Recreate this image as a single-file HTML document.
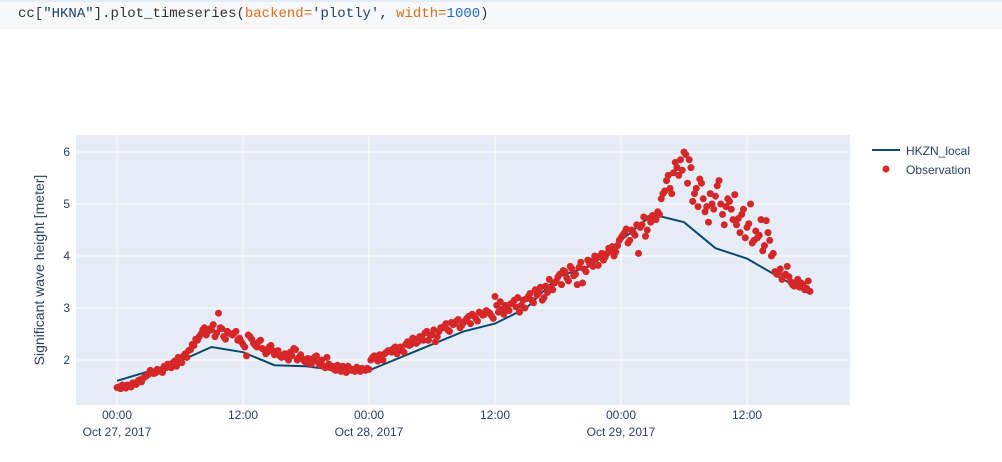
<!DOCTYPE html>
<html><head><meta charset="utf-8"><style>
body{margin:0;width:1002px;height:462px;background:#fff;overflow:hidden;font-family:"Liberation Sans",sans-serif}
#code{position:absolute;left:0;top:0;width:1002px;height:27px;background:#f7f8fa;border-top:2px solid #e3ecf7;font-family:"Liberation Mono",monospace;font-size:14px;line-height:25px;color:#333}
#code span.p{padding-left:18px}
.o{color:#e06c1a}.n{color:#1f6fbf}.s{color:#22436b}
svg{position:absolute;left:0;top:0}
</style></head><body>
<div id="code"><span class="p">cc[<span class="s">"HKNA"</span>].plot_timeseries(<span class="o">backend</span><span class="o">=</span><span class="s">'plotly'</span>, <span class="o">width</span><span class="o">=</span><span class="n">1000</span>)</span></div>
<svg id="chart" width="1002" height="462"></svg>
<script>
const lineHours=[0,3,6,9,12,15,18,21,24,27,30,33,36,39,42,45,48,51,54,57,60,63,66];
const lineValues=[1.6,1.78,1.98,2.25,2.15,1.9,1.88,1.8,1.8,2.05,2.3,2.55,2.7,3.0,3.6,3.8,4.3,4.8,4.65,4.15,3.95,3.6,3.27];
const obsStepHours=1/3;
const obsValues=[1.47,1.45,1.50,1.52,1.48,1.55,1.60,1.58,1.68,1.72,1.78,1.75,1.80,1.76,1.85,1.90,1.95,1.88,2.00,2.08,2.05,2.20,2.28,2.38,2.50,2.62,2.55,2.58,2.45,2.90,2.60,2.40,2.52,2.48,2.55,2.42,2.30,2.08,2.45,2.32,2.25,2.38,2.20,2.15,2.28,2.10,2.18,2.05,2.12,2.00,2.08,2.20,2.05,2.02,1.95,2.02,1.98,2.08,1.90,1.88,2.05,1.85,1.82,1.90,1.78,1.85,1.88,1.80,1.78,1.82,1.84,1.80,1.82,2.05,2.02,2.10,2.00,2.15,2.18,2.22,2.12,2.25,2.15,2.35,2.30,2.40,2.35,2.45,2.52,2.38,2.48,2.35,2.55,2.62,2.70,2.55,2.68,2.75,2.62,2.72,2.80,2.70,2.85,2.75,2.90,2.88,2.92,2.85,3.22,2.92,2.98,3.05,2.95,3.10,3.02,2.92,3.15,3.18,3.28,3.10,3.25,3.40,3.20,3.30,3.38,3.48,3.60,3.45,3.70,3.52,3.75,3.65,3.78,3.48,3.70,3.85,3.80,3.95,4.00,3.92,4.05,4.10,4.00,4.20,4.35,4.45,4.25,4.50,4.40,4.05,4.60,4.38,4.72,4.78,4.70,4.80,5.20,5.45,5.30,5.60,5.70,5.85,6.00,5.40,5.70,5.20,4.95,5.40,4.85,4.65,5.00,5.15,5.45,4.80,4.95,5.05,4.70,4.60,4.45,4.90,4.55,5.00,4.30,4.35,4.70,4.20,4.45,4.00,3.70,3.70,3.55,3.65,3.60,3.45,3.50,3.40,3.45,3.38,3.32];
const obsOffsetHours=1/6;
const obsValues2=[1.48,1.52,1.46,1.50,1.56,1.53,1.62,1.65,1.70,1.80,1.74,1.82,1.78,1.88,1.92,1.85,1.98,2.05,1.95,2.12,2.18,2.30,2.40,2.45,2.58,2.48,2.60,2.68,2.52,2.62,2.45,2.55,2.50,2.52,2.38,2.35,2.25,2.48,2.40,2.28,2.35,2.22,2.12,2.25,2.18,2.15,2.08,2.10,2.05,2.15,2.22,2.00,2.10,1.98,2.03,1.92,2.06,1.95,2.00,1.85,1.92,1.88,1.80,1.82,1.88,1.76,1.84,1.82,1.86,1.78,1.82,1.84,2.00,2.08,1.98,2.05,2.12,2.18,2.15,2.25,2.20,2.18,2.30,2.28,2.42,2.32,2.45,2.38,2.55,2.48,2.58,2.45,2.62,2.65,2.58,2.72,2.70,2.78,2.66,2.76,2.84,2.88,2.80,2.92,2.86,2.95,2.90,2.80,3.05,3.12,2.88,2.98,3.08,3.15,3.20,3.05,3.00,3.22,3.15,3.35,3.30,3.15,3.42,3.55,3.35,3.52,3.65,3.72,3.58,3.80,3.62,3.45,3.88,3.75,3.92,3.90,4.00,3.82,4.05,3.98,4.15,4.18,4.08,4.30,4.40,4.52,4.30,4.45,4.60,4.55,4.75,4.50,4.65,4.72,4.85,5.10,5.25,5.55,5.20,5.80,5.55,5.65,5.95,5.85,5.05,5.30,5.48,5.10,4.95,5.20,4.90,5.35,5.00,4.60,5.10,4.90,5.18,4.72,4.80,4.35,4.62,4.25,4.48,4.40,4.10,4.68,4.30,4.05,3.65,3.75,3.62,3.80,3.50,3.42,3.55,3.48,3.35,3.52];
const yTicks=[2,3,4,5,6];
const xTickHours=[0,12,24,36,48,60];
const xTickLabels=[["00:00","Oct 27, 2017"],["12:00",""],["00:00","Oct 28, 2017"],["12:00",""],["00:00","Oct 29, 2017"],["12:00",""]];

const L=76,R=850,T=135,B=405;
const x=h=>117+h*10.5;
const y=v=>412-(v-1)*52;
const NS="http://www.w3.org/2000/svg";
const svg=document.getElementById('chart');
function mk(tag,attrs,parent){const e=document.createElementNS(NS,tag);for(const k in attrs)e.setAttribute(k,attrs[k]);(parent||svg).appendChild(e);return e;}

const bg=mk('rect',{x:L,y:T,width:R-L,height:B-T,fill:'#e5ecf6'});



yTicks.forEach(v=>{
  const g=mk('line',{x1:L,x2:R,y1:y(v),y2:y(v),stroke:'#fff','stroke-width':1});
  
  
  const t=mk('text',{x:70,y:y(v)+4,'text-anchor':'end','font-size':12,fill:'#2a3f5f'});
  t.textContent=v;
  
  
});
xTickHours.forEach((h,i)=>{
  const g=mk('line',{x1:x(h),x2:x(h),y1:T,y2:B,stroke:'#fff','stroke-width':1});
  
  
  const t=mk('text',{x:x(h),y:419,'text-anchor':'middle','font-size':12,fill:'#2a3f5f'});
  t.textContent=xTickLabels[i][0];
  
  
  if(xTickLabels[i][1]){
    const t2=mk('text',{x:x(h),y:436,'text-anchor':'middle','font-size':12,fill:'#2a3f5f'});
    t2.textContent=xTickLabels[i][1];
    
    
  }
});

const pts=lineHours.map((h,i)=>x(h)+','+y(lineValues[i])).join(' ');
const pl=mk('polyline',{points:pts,fill:'none',stroke:'#0b4a6f','stroke-width':2});



obsValues.forEach((v,i)=>{
  const c=mk('circle',{cx:x(i*obsStepHours),cy:y(v),r:3.5,fill:'#d62728'});
  
  
});
obsValues2.forEach((v,i)=>{
  const c=mk('circle',{cx:x(i*obsStepHours+obsOffsetHours),cy:y(v),r:3.5,fill:'#d62728'});
  
  
});

const yt=mk('text',{x:0,y:0,transform:'translate(44,270) rotate(-90)','text-anchor':'middle','font-size':14,fill:'#2a3f5f'});
yt.textContent='Significant wave height [meter]';



const l1=mk('line',{x1:872,x2:900,y1:150,y2:150,stroke:'#0b4a6f','stroke-width':2});


const lt1=mk('text',{x:906,y:155,'font-size':12,fill:'#2a3f5f'});
lt1.textContent='HKZN_local';


const c2=mk('circle',{cx:886,cy:169,r:3.5,fill:'#d62728'});


const lt2=mk('text',{x:906,y:174,'font-size':12,fill:'#2a3f5f'});
lt2.textContent='Observation';


</script>
</body></html>
